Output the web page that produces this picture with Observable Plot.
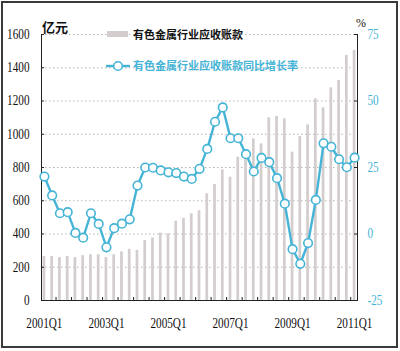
<!DOCTYPE html>
<html><head><meta charset="utf-8">
<script src="https://cdn.jsdelivr.net/npm/d3@7"></script>
<script src="https://cdn.jsdelivr.net/npm/@observablehq/plot@0.6"></script>
<style>
body{margin:0;background:#fff;}
#wrap{position:relative;width:400px;height:351px;overflow:hidden;background:#fff;}
#border{position:absolute;left:1px;top:1px;width:393px;height:343px;border:2px solid #3a3a3a;pointer-events:none;}
</style></head><body><div id="wrap"><div id="border"></div></div>
<script>
const quarters = ["2001Q1","2001Q2","2001Q3","2001Q4","2002Q1","2002Q2","2002Q3","2002Q4",
"2003Q1","2003Q2","2003Q3","2003Q4","2004Q1","2004Q2","2004Q3","2004Q4",
"2005Q1","2005Q2","2005Q3","2005Q4","2006Q1","2006Q2","2006Q3","2006Q4",
"2007Q1","2007Q2","2007Q3","2007Q4","2008Q1","2008Q2","2008Q3","2008Q4",
"2009Q1","2009Q2","2009Q3","2009Q4","2010Q1","2010Q2","2010Q3","2010Q4","2011Q1"];
const receivables = [265,265,258,265,258,270,275,275,258,275,292,308,301,360,376,405,401,477,494,521,540,642,698,786,742,862,872,972,942,1099,1107,1093,892,986,1056,1213,1159,1279,1323,1474,1504];
const growth = [21.6,14.5,7.8,8.2,0.4,-1.4,7.8,3.8,-5.0,2.2,3.9,5.5,18.2,25.0,24.9,23.9,23.2,22.9,21.6,20.7,24.5,32.0,42.2,47.6,36.0,36.0,30.0,23.5,28.6,27.0,21.0,11.4,-5.7,-11.2,-3.4,12.8,34.1,32.8,28.1,25.1,28.7];
const leftTicks = [0,200,400,600,800,1000,1200,1400,1600];
const rightTicks = [-25,0,25,50,75];
const xTickLabels = ["2001Q1","2003Q1","2005Q1","2007Q1","2009Q1","2011Q1"];
const legendLabels = ["有色金属行业应收账款","有色金属行业应收账款同比增长率"];
const leftUnit = "亿元";
const rightUnit = "%";

const toLeft = v => (v + 25) * 16;
const data = quarters.map((q, i) => ({q, amt: receivables[i], gy: toLeft(growth[i])}));
const teal = "#45b4d6";
const barFill = "#d3cdcd";
const numFont = "'Liberation Serif','DejaVu Serif',serif";
const cjkFont = "'Noto Sans CJK SC',sans-serif";

const chart = Plot.plot({
  width: 400, height: 351,
  marginLeft: 41, marginRight: 43, marginTop: 34, marginBottom: 51,
  style: {fontFamily: numFont, fontSize: "14px", background: "transparent", overflow: "visible"},
  x: {type: "band", domain: quarters, paddingInner: 0.65, paddingOuter: 0.2, axis: null, label: null},
  y: {domain: [0, 1600], axis: null, label: null},
  marks: [
    Plot.ruleY(leftTicks.filter(d => d > 0), {stroke: "#b5b5b5", strokeDasharray: "1.5,2.5"}),
    Plot.barY(data, {x: "q", y: "amt", fill: barFill}),
    Plot.frame({anchor: "left", stroke: "#222"}),
    Plot.frame({anchor: "right", stroke: "#222"}),
    Plot.frame({anchor: "bottom", stroke: "#222"}),
    Plot.axisY(leftTicks, {anchor: "left", tickSize: 0, tickPadding: 12, tickFormat: d => String(d), fill: "#111", label: null}),
    Plot.axisY(rightTicks.map(toLeft), {anchor: "right", tickSize: 0, tickPadding: 10, tickFormat: d => String(d / 16 - 25), fill: teal, label: null}),
    Plot.axisX(xTickLabels, {anchor: "bottom", tickSize: 0, tickPadding: 18, fill: "#111", label: null}),
    Plot.tickY(leftTicks, {insetRight: 313, stroke: "#222"}),
    Plot.tickY(rightTicks.map(toLeft), {insetLeft: 313, stroke: "#222"}),
    Plot.ruleX(quarters.filter((d, i) => i % 2 === 1), {dx: 3.875, insetTop: 263, stroke: "#222"}),
    Plot.line(data, {x: "q", y: "gy", stroke: teal, strokeWidth: 2.4}),
    Plot.dot(data, {x: "q", y: "gy", r: 4.3, fill: "white", stroke: teal, strokeWidth: 1.6})
  ]
});
document.getElementById("wrap").prepend(chart);

const svg = d3.select(chart);
// condense the numeric tick labels like the narrow font of the original
svg.selectAll("g[aria-label$='tick label'] text").each(function() {
  const w = this.getComputedTextLength();
  if (w > 0) {
    this.setAttribute("textLength", (w * 0.8).toFixed(1));
    this.setAttribute("lengthAdjust", "spacingAndGlyphs");
  }
});

const g = svg.append("g").attr("text-anchor", "start");
g.append("text").attr("x", 42).attr("y", 27).attr("dy", "0.35em").attr("font-family", cjkFont)
  .attr("font-size", 13).attr("font-weight", "bold").attr("fill", "#111").text(leftUnit);
g.append("text").attr("x", 356).attr("y", 23).attr("dy", "0.35em").attr("font-family", numFont)
  .attr("font-size", 12).attr("fill", "#111").text(rightUnit);
g.append("rect").attr("x", 107).attr("y", 31).attr("width", 21).attr("height", 6).attr("fill", barFill);
g.append("text").attr("x", 133).attr("y", 35).attr("dy", "0.35em").attr("font-family", cjkFont)
  .attr("font-size", 11).attr("font-weight", "bold").attr("fill", "#111").text(legendLabels[0]);
g.append("line").attr("x1", 106).attr("x2", 130).attr("y1", 66).attr("y2", 66).attr("stroke", teal).attr("stroke-width", 2.4);
g.append("circle").attr("cx", 118).attr("cy", 66).attr("r", 4.3).attr("fill", "white").attr("stroke", teal).attr("stroke-width", 1.6);
g.append("text").attr("x", 133).attr("y", 66).attr("dy", "0.35em").attr("font-family", cjkFont)
  .attr("font-size", 11).attr("font-weight", "bold").attr("fill", teal).text(legendLabels[1]);
</script>
</body></html>
